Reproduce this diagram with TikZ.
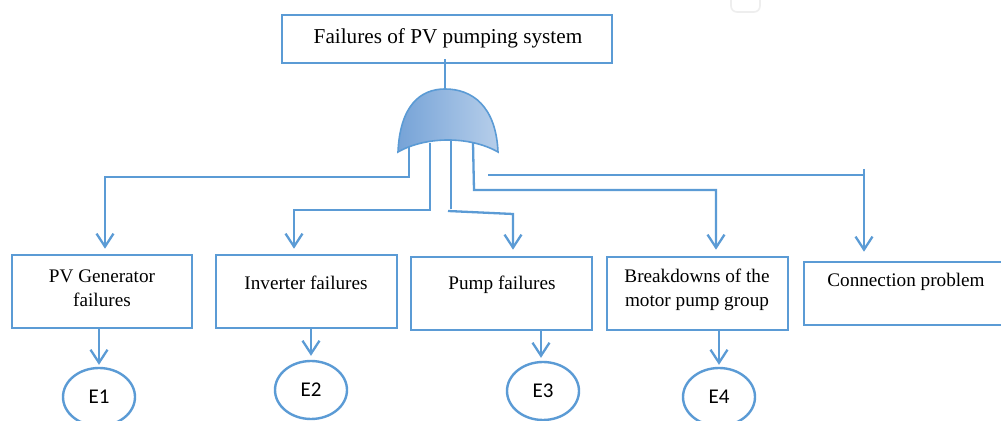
\documentclass[tikz,border=0pt]{standalone}
\usepackage{fontspec}
\setmainfont{Liberation Serif}
\newfontfamily\elabel{Carlito}
\usetikzlibrary{arrows.meta,shapes.geometric,calc}
\definecolor{lblue}{RGB}{91,155,213}
\definecolor{gateL}{RGB}{118,163,215}
\definecolor{gateR}{RGB}{182,206,234}
\definecolor{faint}{RGB}{238,238,238}
\tikzset{
  box/.style={draw=lblue,line width=1.3pt,rectangle,inner sep=0pt},
  txt/.style={font=\fontsize{9.6}{12}\selectfont,align=center,inner sep=0pt},
  conn/.style={draw=lblue,line width=1.15pt},
  arr/.style={conn,-{Straight Barb[length=6.5pt,width=8.5pt,line width=1.15pt]}},
  event/.style={draw=lblue,line width=1.2pt,ellipse,minimum width=36pt,minimum height=29pt,inner sep=0pt,font=\elabel\fontsize{10.5}{12}\selectfont}
}
\begin{document}
\begin{tikzpicture}[x=0.5pt,y=-0.5pt]
\clip (0,0) rectangle (1001,421);
\fill[white] (0,0) rectangle (1001,421);
% faint artifact
\draw[faint,line width=0.8pt,rounded corners=3pt] (731,-10) rectangle (760,12);
% top event
\node[box,minimum width=165pt,minimum height=24pt] (top) at (447,39) {};
\node[txt,font=\fontsize{10.6}{12}\selectfont] (toptxt) at (448,38) {Failures of PV pumping system};
% gate
\coordinate (gapex) at (445,89);
\filldraw[draw=lblue,line width=0.8pt,left color=gateL,right color=gateR]
  (398,152) .. controls (400,106) and (420,89) .. (gapex)
  .. controls (472,89) and (496,106) .. (498,152)
  .. controls (470,136) and (426,136) .. cycle;
\draw[conn] (top.south -| gapex) ++(0,-5) -- (gapex);
\coordinate (g1) at (409,147);
\coordinate (g2) at (430,143);
\coordinate (g3) at (451,141);
\coordinate (g4) at (473,143);
\coordinate (g5) at (488,175);
\coordinate (g3b) at (448,211);
% intermediate events
\node[box,minimum width=90pt,minimum height=36.5pt] (b1) at (102,291.5) {};
\node[txt] (t1) at (102,288) {PV Generator\\failures};
\node[box,minimum width=90.5pt,minimum height=36.5pt] (b2) at (306.5,291.5) {};
\node[txt] (t2) at (306,283) {Inverter failures};
\node[box,minimum width=90.5pt,minimum height=36.5pt] (b3) at (501.5,293.5) {};
\node[txt] (t3) at (502,285) {Pump failures};
\node[box,minimum width=90.5pt,minimum height=36.5pt] (b4) at (697.5,293.5) {};
\node[txt] (t4) at (697,289.5) {Breakdowns of the\\motor pump group};
\node[box,minimum width=104pt,minimum height=31.5pt] (b5) at (908,293.5) {};
\node[txt] (t5) at (906,282) {Connection problem};
% connectors from gate
\draw[arr] (g1) -- (409,177) -- (105,177) -- ($(b1.north)+(3,-5)$);
\draw[arr] (g2) -- (430,210) -- (294,210) -- ($(b2.north)+(-12.5,-5)$);
\draw[conn] (g3) -- (451,209);
\draw[arr] (g3b) -- (513,214) -- ($(b3.north)+(11.5,-6)$);
\draw[arr] (g4) -- (474,190) -- (716,190) -- ($(b4.north)+(18.5,-6)$);
\draw[conn] (g5) -- (864,175);
\draw[arr] (864,169) -- ($(b5.north)+(-44,-9)$);
% basic events
\node[event] (e1) at (99,397) {E1};
\node[event] (e2) at (311,390) {E2};
\node[event] (e3) at (543,391) {E3};
\node[event] (e4) at (719,397) {E4};
\draw[arr] (b1.south -| e1) -- ($(e1.north)+(0,-2)$);
\draw[arr] (b2.south -| e2) -- ($(e2.north)+(0,-4)$);
\draw[arr] ($(b3.south)+(39.5,0)$) -- ($(e3.north)+(-2,-3)$);
\draw[arr] (b4.south -| e4) -- ($(e4.north)+(0,-2)$);
\end{tikzpicture}
\end{document}
